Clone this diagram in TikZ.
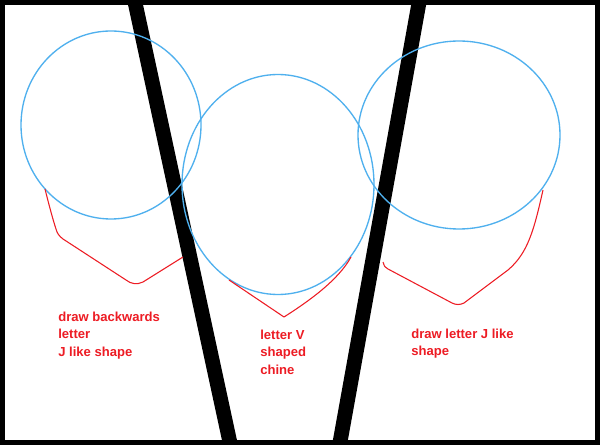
\documentclass[tikz,border=0pt]{standalone}
\usepackage{fontspec}
\setmainfont{Liberation Sans}
\definecolor{sketchblue}{RGB}{79,176,238}
\definecolor{sketchred}{RGB}{237,28,36}

\begin{document}
\begin{tikzpicture}[x=0.75pt,y=0.75pt,yscale=-1,xscale=1,
    guide/.style={draw=sketchblue, line width=1},
    chine/.style={draw=sketchred, line width=0.8, line join=round},
    bar/.style={fill=black, draw=none},
    note/.style={text=sketchred, font=\bfseries\fontsize{9.8}{13.1}\selectfont, align=left, inner sep=0, anchor=north west}]
    \useasboundingbox (0,0) rectangle (600,445);
    \fill [white] (0,0) rectangle (600,445);

    %Shape: Polygon (left bar)
    \path [bar] (127,0) -- (142,0) -- (238,445) -- (223,445) -- cycle ;
    %Shape: Polygon (right bar)
    \path [bar] (412,0) -- (427,0) -- (347,445) -- (332,445) -- cycle ;

    %Shape: Ellipse (left)
    \draw [guide] (111,125) ellipse (90 and 94) ;
    %Shape: Ellipse (middle)
    \draw [guide] (278,184.5) ellipse (96 and 110) ;
    %Shape: Ellipse (right)
    \draw [guide] (459,135) ellipse (101 and 94) ;

    %Curve Lines (backwards J)
    \draw [chine] (45,189) .. controls (49,205) and (53,220) .. (56,229) .. controls (57,233) and (59,236) .. (63,239) -- (126,280) .. controls (131,284) and (137,285) .. (143,282) -- (183,257) ;
    %Curve Lines (V)
    \draw [chine] (229,280) -- (284,317) .. controls (306,303) and (338,281) .. (351,257) ;
    %Curve Lines (J)
    \draw [chine] (383,262) .. controls (383,265) and (385,267) .. (388,269) -- (452,303) .. controls (456,305) and (460,305) .. (464,303) -- (508,270) .. controls (528,253) and (534,230) .. (543,190) ;

    %Frame
    \draw [line width=3.4] (2.25,2.25) rectangle (597.75,442.75) ;

    % labels
    \node [note] (lblleft) at (58,311.5) {draw backwards\\letter\\J like shape};
    \node [note] (lblmid) at (260,329.5) {letter V\\shaped\\chine};
    \node [note] (lblright) at (411,328.5) {draw letter J like\\shape};

\end{tikzpicture}
\end{document}
